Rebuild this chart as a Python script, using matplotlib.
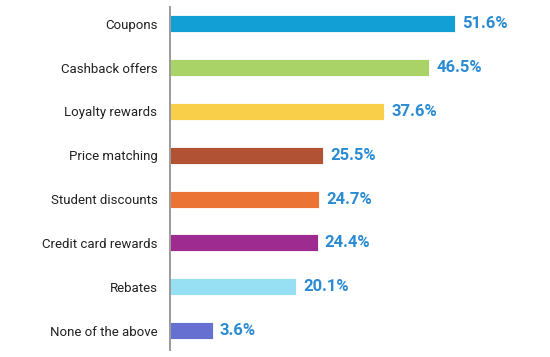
import matplotlib
matplotlib.use("Agg")
import matplotlib.pyplot as plt

categories = ["Coupons", "Cashback offers", "Loyalty rewards", "Price matching",
              "Student discounts", "Credit card rewards", "Rebates", "None of the above"]
values = [51.6, 46.5, 37.6, 25.5, 24.7, 24.4, 20.1, 3.6]
colors = ["#119fd6", "#a9d366", "#f9cf4a", "#b05233",
          "#eb7333", "#9e2b90", "#97e0f4", "#6670d0"]

X0 = -4.9          # where the value axis starts (bars grow from here)
LABEL_BLUE = "#2a8bd3"

plt.rcParams["font.family"] = ["Roboto", "DejaVu Sans"]

fig = plt.figure(figsize=(5.5, 3.57), dpi=100)
ax = fig.add_axes([0.309, 0.02, 0.691, 0.96])

ypos = range(len(categories))
ax.barh(ypos, [v - X0 for v in values], left=X0, height=0.39,
        color=colors, edgecolor="white", linewidth=0.6)

for y, v in zip(ypos, values):
    ax.text(v + 1.4, y, f"{v:.1f}%", va="center", ha="left",
            fontsize=12, fontweight="bold", color=LABEL_BLUE)

ax.set_yticks(list(ypos))
ax.set_yticklabels(categories, fontsize=9.5, color="#222222")
ax.tick_params(axis="y", length=0, pad=9)
ax.set_xticks([])
ax.set_xlim(X0, 70.5)
ax.set_ylim(7.44, -0.38)

for s in ("top", "right", "bottom"):
    ax.spines[s].set_visible(False)
ax.spines["left"].set_color("#9a9a9a")
ax.spines["left"].set_linewidth(1.4)

fig.savefig("out.png", dpi=100)
